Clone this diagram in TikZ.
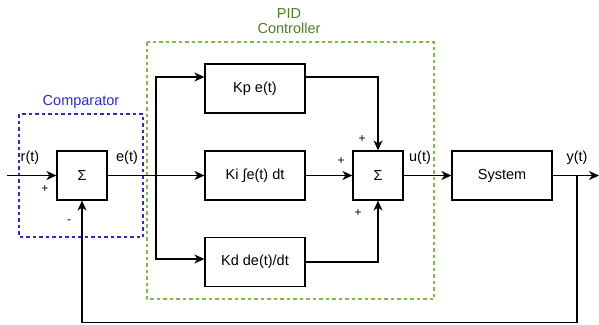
\documentclass[tikz,border=0pt]{standalone}
\usepackage{fontspec}
\setmainfont{Liberation Sans}
\usetikzlibrary{arrows.meta,calc}
\definecolor{cmpblue}{HTML}{2B2BD6}
\definecolor{pidgreen}{HTML}{7DBE45}
\definecolor{pidtext}{HTML}{4F7F24}
\tikzset{
 block/.style={draw, line width=1.2pt, minimum width=100pt, minimum height=49pt, inner sep=0pt, font=\fontsize{14.5}{17}\selectfont},
 sumbox/.style={block, minimum width=50pt},
 lbl/.style={inner sep=0pt, font=\fontsize{14.5}{17}\selectfont},
 sgn/.style={inner sep=0pt, font=\fontsize{12}{14}\selectfont},
 wire/.style={line width=1.2pt, -{Stealth[length=10pt, width=9pt, inset=3pt]}},
 groupbox/.style={line width=1.1pt, dash pattern=on 3.5pt off 3pt}
}
\begin{document}
\begin{tikzpicture}[x=1pt, y=-1pt]
 \useasboundingbox (0,0) rectangle (599,324);

 % Gruppen
 \draw[groupbox, cmpblue] (19,114) rectangle (143,237);
 \draw[groupbox, pidgreen] (147,42) rectangle (434,299);
 \node[lbl, text=cmpblue] (cmplabel) at (81,102) {Comparator};
 \node[lbl, text=pidtext, align=center] (pidlabel) at (289,21) {PID\\[-2pt]Controller};

 % Bloecke
 \node[sumbox] (comp) at (82,175.5) {Σ};
 \node[block] (kp) at (255,88.5) {Kp e(t)};
 \node[block] (ki) at (255,175.5) {Ki ∫e(t) dt};
 \node[block] (kd) at (255,262) {Kd de(t)/dt};
 \node[sumbox] (sum) at (378,175.5) {Σ};
 \node[block] (sys) at (502,175.5) {System};

 % Hilfspunkte
 \coordinate (in) at (7,175.5);
 \coordinate (out) at (599,175.5);
 \coordinate (split) at (156,175.5);
 \coordinate (tap) at (577,175.5);
 \coordinate (low) at (577,322.5);

 % Verbindungen
 \draw[wire] (in) -- (comp.west);
 \draw[line width=1.2pt] (comp.east) -- (split);
 \draw[wire] (split) -- (ki.west);
 \draw[wire] (split) |- ($(kp.west)+(0,-11.5)$);
 \draw[wire] (split) |- ($(kd.west)+(0,-3)$);
 \draw[wire] ($(kp.east)+(0,-11.5)$) -| (sum.north);
 \draw[wire] (ki.east) -- (sum.west);
 \draw[wire] (kd.east) -| (sum.south);
 \draw[wire] (sum.east) -- (sys.west);
 \draw[wire] (sys.east) -- (out);
 \draw[wire] (tap) -- (low) -| (comp.south);

 % Signale und Vorzeichen
 \node[lbl] (rlabel) at (30,158) {r(t)};
 \node[lbl] (elabel) at (127,158) {e(t)};
 \node[lbl] (ulabel) at (420,158) {u(t)};
 \node[lbl] (ylabel) at (577,158) {y(t)};
 \node[sgn] (cplus) at (45,189) {+};
 \node[sgn] (cminus) at (69,222) {-};
 \node[sgn] (splus1) at (362,139) {+};
 \node[sgn] (splus2) at (341,161) {+};
 \node[sgn] (splus3) at (358,213) {+};
\end{tikzpicture}
\end{document}
